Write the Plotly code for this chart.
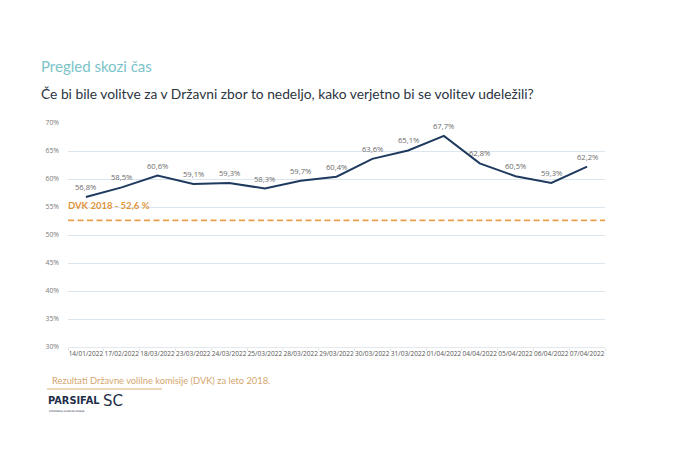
import plotly.graph_objects as go

dates = ["14/01/2022", "17/02/2022", "18/03/2022", "23/03/2022", "24/03/2022",
         "25/03/2022", "28/03/2022", "29/03/2022", "30/03/2022", "31/03/2022",
         "01/04/2022", "04/04/2022", "05/04/2022", "06/04/2022", "07/04/2022"]
turnout = [56.8, 58.5, 60.6, 59.1, 59.3, 58.3, 59.7, 60.4, 63.6, 65.1,
           67.7, 62.8, 60.5, 59.3, 62.2]
dvk_value = 52.6
y_ticks = [30, 35, 40, 45, 50, 55, 60, 65, 70]

labels = [f"{v:.1f}".replace(".", ",") + "%" for v in turnout]

# page offset compensation (browser body margin)
OFF = 8
W, H = 680, 453
L, T, R, B = 68 - OFF, 123 - OFF, 75 + OFF, 106 + OFF
pw, ph = W - L - R, H - T - B


def px(x):
    return (x - OFF - L) / pw


def py(y):
    return 1 - (y - OFF - T) / ph


fig = go.Figure()
fig.add_trace(go.Scatter(
    x=[-0.5, len(dates) - 0.5], y=[dvk_value, dvk_value], xaxis="x2",
    mode="lines", line=dict(color="#E8A04A", width=1.8, dash="6px,3.5px"),
    hoverinfo="skip", showlegend=False,
))
fig.add_trace(go.Scatter(
    x=dates, y=turnout, mode="lines",
    line=dict(color="#1F3A5F", width=2),
    showlegend=False,
))

for d, v, lab in zip(dates, turnout, labels):
    fig.add_annotation(x=d, y=v, xref="x", yref="y", text=lab, yshift=10,
                       showarrow=False, xanchor="center", yanchor="middle",
                       font=dict(family="Open Sans", size=7.6, color="#6B6B6B"))

fig.update_layout(
    width=W, height=H,
    margin=dict(l=L, r=R, t=T, b=B),
    paper_bgcolor="white", plot_bgcolor="white",
    separators=",.",
    xaxis=dict(
        type="category", range=[-0.5, len(dates) - 0.5],
        showgrid=False, showline=True, linecolor="#E3E8EC", linewidth=1,
        ticks="outside", ticklen=3, tickcolor="#E3E8EC",
        tickson="boundaries",
        tickfont=dict(family="Open Sans", size=6.5, color="#555555"),
        tickangle=0,
    ),
    xaxis2=dict(overlaying="x", range=[-0.5, len(dates) - 0.5],
                visible=False, showgrid=False),
    yaxis=dict(
        range=[30, 70], tickvals=y_ticks,
        ticktext=[f"{t}%" for t in y_ticks],
        showgrid=True, gridcolor="#DCE6EE", gridwidth=1,
        zeroline=False, showline=False,
        tickfont=dict(family="Open Sans", size=6.8, color="#7A7A7A"),
        ticks="", ticklabelstandoff=8,
    ),
)

fig.add_annotation(
    x=px(66), xref="paper", y=dvk_value, yref="y", yshift=7,
    text="<b>DVK 2018 - " + f"{dvk_value:.1f}".replace(".", ",") + " %</b>",
    showarrow=False, xanchor="left", yanchor="bottom",
    font=dict(family="Lato", size=9.5, color="#E0953C"),
)

fig.add_annotation(x=px(39), y=py(66), xref="paper", yref="paper",
                   text="Pregled skozi čas", showarrow=False,
                   xanchor="left", yanchor="middle",
                   font=dict(family="Lato", size=15, color="#7CC3C9"))
fig.add_annotation(x=px(39), y=py(93), xref="paper", yref="paper",
                   text="Če bi bile volitve za v Državni zbor to nedeljo, kako verjetno bi se volitev udeležili?",
                   showarrow=False, xanchor="left", yanchor="middle",
                   font=dict(family="Lato", size=13.8, color="#2B3440"))
fig.add_annotation(x=px(50), y=py(380), xref="paper", yref="paper",
                   text="Rezultati Državne volilne komisije (DVK) za leto 2018.",
                   showarrow=False, xanchor="left", yanchor="middle",
                   font=dict(family="Lato", size=9.3, color="#D4A66E"))
fig.add_shape(type="line", xref="paper", yref="paper",
              x0=px(47), x1=px(162), y0=py(389), y1=py(389),
              line=dict(color="#E8C9A0", width=1.5))
fig.add_annotation(x=px(46), y=py(400), xref="paper", yref="paper",
                   text="<b>PARSIFAL</b>",
                   showarrow=False, xanchor="left", yanchor="middle",
                   font=dict(family="DejaVu Sans", size=9.8, color="#1F2F4A"))
fig.add_annotation(x=px(101), y=py(401), xref="paper", yref="paper",
                   text="SC",
                   showarrow=False, xanchor="left", yanchor="middle",
                   font=dict(family="DejaVu Sans", size=15, color="#1F2F4A"))
fig.add_annotation(x=px(47), y=py(407), xref="paper", yref="paper",
                   text="STRATEŠKO KOMUNICIRANJE",
                   showarrow=False, xanchor="left", yanchor="top",
                   font=dict(family="DejaVu Sans", size=2.5, color="#1F2F4A"))

fig.write_html("out.html")
